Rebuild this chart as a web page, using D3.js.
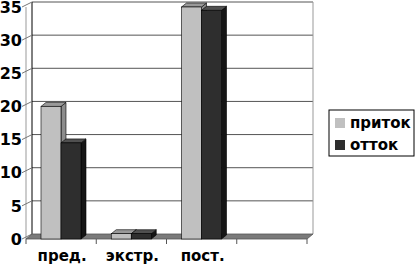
<!DOCTYPE html>
<html>
<head>
<meta charset="utf-8">
<script src="https://cdn.jsdelivr.net/npm/d3@7"></script>
<style>
  body { margin: 0; background: #fff; }
  text { font-family: "DejaVu Sans", Verdana, sans-serif; font-weight: bold; fill: #000; }
</style>
</head>
<body>
<svg width="416" height="267"></svg>
<script>
// categories (the 4th slot is empty in the original)
var categories = ["пред.", "экстр.", "пост.", ""];
var seriesNames = ["приток", "отток"];
var inflow  = [20, 0.8, 35, null];
var outflow = [14.5, 0.8, 34.5, null];
var yTicks = [0, 5, 10, 15, 20, 25, 30, 35];

var colors = {
  "приток": { front: "#c0c0c0", side: "#8c8c8c", top: "#999999" },
  "отток":  { front: "#2e2e2e", side: "#151515", top: "#505050" }
};

var svg = d3.select("svg");

// 3d offsets: back wall relative to front plane, and bar depth
var wall = { dx: 6, dy: -5 };
var bar = { dx: 5, dy: -4 };

var x = d3.scaleBand().domain(categories).range([26, 307]);
var x1 = d3.scaleBand().domain(seriesNames).range([15, 55]);
var y = d3.scaleLinear().domain([0, 35]).range([239, 7]);

var x0 = x.range()[0], xEnd = x.range()[1];

// back wall gridlines
var grid = svg.append("g").attr("class", "grid");
grid.selectAll("line.h")
  .data(yTicks.filter(function(d) { return d > 0; }))
  .enter().append("line")
    .attr("x1", x0 + wall.dx)
    .attr("x2", xEnd + wall.dx)
    .attr("y1", function(d) { return y(d) + wall.dy; })
    .attr("y2", function(d) { return y(d) + wall.dy; })
    .attr("stroke", "#555")
    .attr("stroke-width", 1);

// left wall edge and right edge of back wall
grid.append("line")
  .attr("x1", x0 + wall.dx).attr("x2", x0 + wall.dx)
  .attr("y1", y(35) + wall.dy).attr("y2", y(0) + wall.dy)
  .attr("stroke", "#000");
grid.append("line")
  .attr("x1", xEnd + wall.dx).attr("x2", xEnd + wall.dx)
  .attr("y1", y(35) + wall.dy).attr("y2", y(0) + wall.dy)
  .attr("stroke", "#999");

// front value axis + ticks going to the wall
grid.append("line")
  .attr("x1", x0).attr("x2", x0)
  .attr("y1", y(35)).attr("y2", y(0))
  .attr("stroke", "#999");
grid.selectAll("line.tick")
  .data(yTicks)
  .enter().append("line")
    .attr("x1", x0 - 4)
    .attr("y1", function(d) { return y(d); })
    .attr("x2", x0 + wall.dx)
    .attr("y2", function(d) { return y(d) + wall.dy; })
    .attr("stroke", "#777");

// floor
svg.append("path")
  .attr("d", "M" + x0 + "," + y(0) +
             "L" + (x0 + wall.dx) + "," + (y(0) + wall.dy) +
             "L" + (xEnd + wall.dx) + "," + (y(0) + wall.dy) +
             "L" + xEnd + "," + y(0) + "Z")
  .attr("fill", "#7a7a7a")
  .attr("stroke", "#555")
  .attr("stroke-width", 0.8);

// category ticks below the floor
svg.append("g").selectAll("line")
  .data(x.domain().map(function(c) { return x(c); }).concat([xEnd]))
  .enter().append("line")
    .attr("x1", function(d) { return d; })
    .attr("x2", function(d) { return d; })
    .attr("y1", y(0))
    .attr("y2", y(0) + 5)
    .attr("stroke", "#555");

// value labels
svg.append("g").selectAll("text")
  .data(yTicks)
  .enter().append("text")
    .attr("x", 22)
    .attr("y", function(d) { return y(d); })
    .attr("dy", "0.36em")
    .attr("text-anchor", "end")
    .style("font-size", "16px")
    .text(function(d) { return d; });

// category labels
svg.append("g").selectAll("text")
  .data(categories)
  .enter().append("text")
    .attr("x", function(d) { return x(d) + x.bandwidth() / 2 + 1; })
    .attr("y", 261)
    .attr("text-anchor", "middle")
    .style("font-size", "15px")
    .text(function(d) { return d; });

// bars
var barData = [];
categories.forEach(function(c, i) {
  if (inflow[i] != null) barData.push({ cat: c, s: "приток", v: inflow[i] });
  if (outflow[i] != null) barData.push({ cat: c, s: "отток", v: outflow[i] });
});

var bars = svg.append("g").attr("class", "bars")
  .selectAll("g")
  .data(barData)
  .enter().append("g");

function barBox(d) {
  var left = x(d.cat) + x1(d.s);
  return { l: left, r: left + x1.bandwidth(), t: y(d.v), b: y(0) };
}

bars.append("path") // side
  .attr("d", function(d) {
    var b = barBox(d);
    return "M" + b.r + "," + b.b + "L" + b.r + "," + b.t +
           "L" + (b.r + bar.dx) + "," + (b.t + bar.dy) +
           "L" + (b.r + bar.dx) + "," + (b.b + bar.dy) + "Z";
  })
  .attr("fill", function(d) { return colors[d.s].side; })
  .attr("stroke", "#000").attr("stroke-width", 0.6);

bars.append("path") // top
  .attr("d", function(d) {
    var b = barBox(d);
    return "M" + b.l + "," + b.t + "L" + (b.l + bar.dx) + "," + (b.t + bar.dy) +
           "L" + (b.r + bar.dx) + "," + (b.t + bar.dy) + "L" + b.r + "," + b.t + "Z";
  })
  .attr("fill", function(d) { return colors[d.s].top; })
  .attr("stroke", "#000").attr("stroke-width", 0.6);

bars.append("rect") // front
  .attr("x", function(d) { return barBox(d).l; })
  .attr("y", function(d) { return barBox(d).t; })
  .attr("width", x1.bandwidth())
  .attr("height", function(d) { var b = barBox(d); return b.b - b.t; })
  .attr("fill", function(d) { return colors[d.s].front; })
  .attr("stroke", "#000").attr("stroke-width", 0.6);

// legend
var legend = svg.append("g").attr("transform", "translate(329,110)");
legend.append("rect")
  .attr("width", 85).attr("height", 46)
  .attr("fill", "#fff").attr("stroke", "#000");
var item = legend.selectAll("g.item")
  .data(seriesNames)
  .enter().append("g")
    .attr("transform", function(d, i) { return "translate(6," + (13 + i * 22) + ")"; });
item.append("rect")
  .attr("x", 0).attr("y", -5)
  .attr("width", 10).attr("height", 10)
  .attr("fill", function(d) { return colors[d].front; });
item.append("text")
  .attr("x", 15)
  .attr("dy", "0.36em")
  .style("font-size", "15px")
  .text(function(d) { return d; });
</script>
</body>
</html>
